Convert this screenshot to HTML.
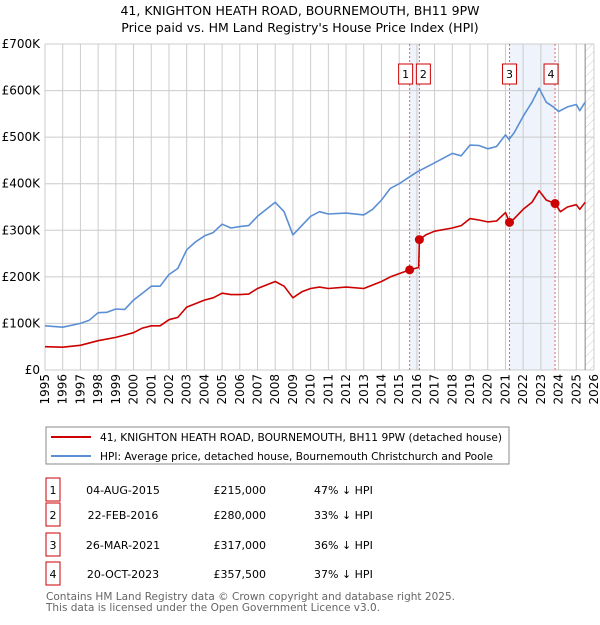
<!DOCTYPE html>
<html><head><meta charset="utf-8"><style>
body{margin:0;background:#fff;font-family:"Liberation Sans","DejaVu Sans",sans-serif;}
svg text{font-family:"DejaVu Sans","Liberation Sans",sans-serif;}
</style></head><body>
<svg id="c" width="600" height="620" xmlns="http://www.w3.org/2000/svg">
<defs><pattern id="h" width="6" height="6" patternUnits="userSpaceOnUse" patternTransform="rotate(45)"><line x1="0" y1="0" x2="0" y2="6" stroke="#ccc" stroke-width="1"/></pattern></defs>
<text x="300" y="15" text-anchor="middle" font-size="12.5">41, KNIGHTON HEATH ROAD, BOURNEMOUTH, BH11 9PW</text>
<text x="300" y="32" text-anchor="middle" font-size="12.5">Price paid vs. HM Land Registry's House Price Index (HPI)</text>
<g id="grid"></g><g id="marks"></g>
<rect x="46" y="427" width="463" height="37" fill="#fff" stroke="#888"/>
<line x1="51" y1="437" x2="91" y2="437" stroke="#cc0000" stroke-width="2"/>
<text x="100" y="441" font-size="10.5" textLength="402" lengthAdjust="spacingAndGlyphs">41, KNIGHTON HEATH ROAD, BOURNEMOUTH, BH11 9PW (detached house)</text>
<line x1="51" y1="456" x2="91" y2="456" stroke="#5b8fd4" stroke-width="2"/>
<text x="100" y="460" font-size="10.5" textLength="393" lengthAdjust="spacingAndGlyphs">HPI: Average price, detached house, Bournemouth Christchurch and Poole</text>
<g id="tbl"></g>
<text x="46" y="600" font-size="11" fill="#666" textLength="409" lengthAdjust="spacingAndGlyphs">Contains HM Land Registry data © Crown copyright and database right 2025.</text>
<text x="46" y="611" font-size="11" fill="#666" textLength="334" lengthAdjust="spacingAndGlyphs">This data is licensed under the Open Government Licence v3.0.</text>
</svg>
<script>
const hpiX=[1995,1996,1997,1997.5,1998,1998.5,1999,1999.5,2000,2000.5,2001,2001.5,2002,2002.5,2003,2003.5,2004,2004.5,2005,2005.5,2006,2006.5,2007,2007.5,2008,2008.5,2009,2009.5,2010,2010.5,2011,2012,2013,2013.5,2014,2014.5,2015,2015.6,2016,2017,2018,2018.5,2019,2019.5,2020,2020.5,2021,2021.2,2021.5,2022,2022.5,2022.9,2023.3,2023.7,2024,2024.5,2025,2025.2,2025.5];
const hpiV=[95,92,100,107,123,124,131,130,150,165,180,180,205,218,258,275,288,295,313,305,308,310,330,345,360,340,290,310,330,340,335,337,333,345,365,390,400,415,425,445,465,460,483,482,475,480,505,495,510,545,575,605,575,565,555,565,570,557,575];
const ppX=[1995,1996,1997,1998,1999,2000,2000.5,2001,2001.5,2002,2002.5,2003,2004,2004.5,2005,2005.5,2006,2006.5,2007,2008,2008.5,2009,2009.5,2010,2010.5,2011,2012,2013,2014,2014.5,2015.59,2016.1,2016.14,2016.5,2017,2018,2018.5,2019,2019.5,2020,2020.5,2021,2021.23,2021.5,2022,2022.5,2022.9,2023.3,2023.8,2024.1,2024.5,2025,2025.2,2025.5];
const ppV=[50,49,53,63,70,80,90,95,95,108,113,135,150,155,165,162,162,163,175,190,180,155,168,175,178,175,178,175,190,200,215,220,280,290,298,305,310,325,322,318,320,338,317,325,345,360,385,365,357.5,340,350,355,345,360];
const saleLabels=["1","2","3","4"];
const saleX=[2015.59,2016.14,2021.23,2023.8];
const saleV=[215,280,317,357.5];
const saleDates=["04-AUG-2015","22-FEB-2016","26-MAR-2021","20-OCT-2023"];
const salePrices=["£215,000","£280,000","£317,000","£357,500"];
const salePct=["47% ↓ HPI","33% ↓ HPI","36% ↓ HPI","37% ↓ HPI"];
const yTicks=[0,100,200,300,400,500,600,700];
const yTickLabels=["£0","£100K","£200K","£300K","£400K","£500K","£600K","£700K"];
const xTicks=[1995,1996,1997,1998,1999,2000,2001,2002,2003,2004,2005,2006,2007,2008,2009,2010,2011,2012,2013,2014,2015,2016,2017,2018,2019,2020,2021,2022,2023,2024,2025,2026];

const NS="http://www.w3.org/2000/svg";
const X=v=>45+(v-1995)*(549/31);
const Y=v=>370-v*(326/700);
function mk(p,t,a){const e=document.createElementNS(NS,t);for(const k in a)e.setAttribute(k,a[k]);p.appendChild(e);return e;}
const g=document.getElementById('grid'),m=document.getElementById('marks'),tb=document.getElementById('tbl');
let s1=mk(g,'rect',{x:X(saleX[0]),y:Y(700),width:X(saleX[1])-X(saleX[0]),height:Y(0)-Y(700),fill:'#eef3fc'});


let s2=mk(g,'rect',{x:X(saleX[2]),y:Y(700),width:X(saleX[3])-X(saleX[2]),height:Y(0)-Y(700),fill:'#eef3fc'});


yTicks.forEach((t,i)=>{
 let l=mk(g,'line',{x1:45,x2:X(2026),y1:Y(t),y2:Y(t),stroke:'#ccc'});
 
 
 let tx=mk(g,'text',{x:40,y:Y(t)+4,'text-anchor':'end','font-size':12});tx.textContent=yTickLabels[i];
 
 
});
xTicks.forEach(t=>{
 let l=mk(g,'line',{x1:X(t),x2:X(t),y1:Y(700),y2:Y(0),stroke:'#ccc'});
 
 
 let tx=mk(g,'text',{x:0,y:0,'text-anchor':'end','font-size':12,transform:`translate(${X(t)+4},374) rotate(-90)`});tx.textContent=t;
 
 
});
let hz=mk(g,'rect',{x:X(2025.5),y:Y(700),width:X(2026)-X(2025.5),height:Y(0)-Y(700),fill:'url(#h)'});


mk(g,'line',{x1:X(2025.5),x2:X(2025.5),y1:Y(700),y2:Y(0),stroke:'#888'});
saleX.forEach((sx,i)=>{
 let l=mk(g,'line',{x1:X(sx),x2:X(sx),y1:Y(700),y2:Y(0),stroke:'#f06060','stroke-dasharray':'2,2'});
 
 
});
function path(xs,vs,c,name){
 let d=xs.map((x,i)=>(i?'L':'M')+X(x).toFixed(1)+','+Y(vs[i]).toFixed(1)).join('');
 let p=mk(m,'path',{d:d,fill:'none',stroke:c,'stroke-width':1.6,'stroke-linejoin':'round'});
 
 
}
path(hpiX,hpiV,'#5b8fd4','hpi-line');
path(ppX,ppV,'#cc0000','price-paid-line');
const boxOff=[-11,-3,-7,-11];
saleX.forEach((sx,i)=>{
 let c=mk(m,'circle',{cx:X(sx),cy:Y(saleV[i]),r:4.5,fill:'#cc0000'});
 
 
 let bx=X(sx)+boxOff[i];
 let r=mk(m,'rect',{x:bx,y:64,width:14,height:20,fill:'#fff',stroke:'#cc0000'});
 
 
 let t=mk(m,'text',{x:bx+7,y:78,'text-anchor':'middle','font-size':11});t.textContent=saleLabels[i];
 
 
});
const rowY=[490,515,545,574];
saleLabels.forEach((lab,i)=>{
 let y=rowY[i];
 let r=mk(tb,'rect',{x:46,y:y-12,width:14,height:23,fill:'#fff',stroke:'#cc0000'});
 
 
 [[53,lab,'middle'],[123,saleDates[i],'middle'],[266,salePrices[i],'end'],[314,salePct[i],'start']].forEach(a=>{
  let t=mk(tb,'text',{x:a[0],y:y+4,'text-anchor':a[2],'font-size':11});t.textContent=a[1];
  
  
 });
});
</script>
</body></html>
